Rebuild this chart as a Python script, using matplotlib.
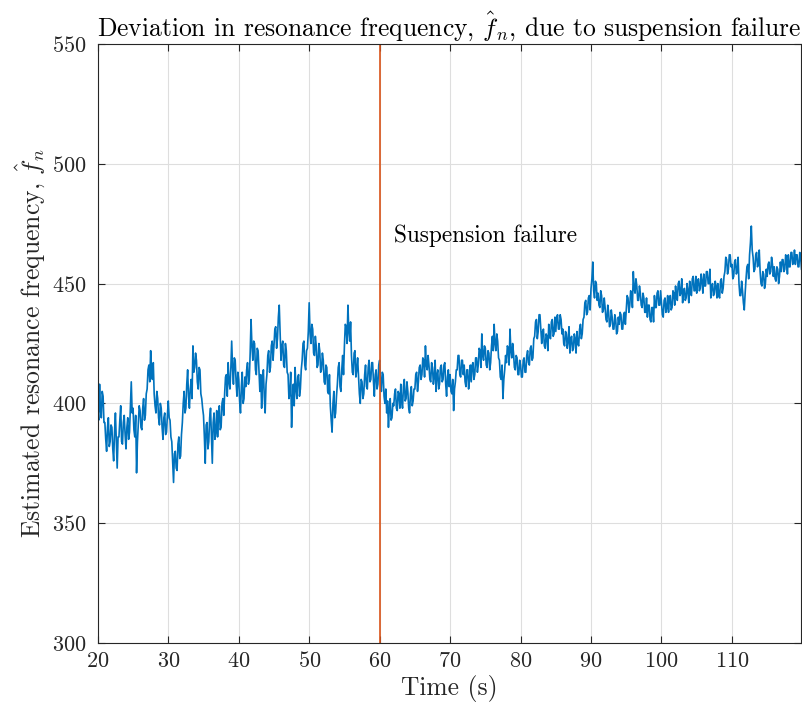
import matplotlib
matplotlib.use("Agg")
import matplotlib.pyplot as plt
import numpy as np

plt.rcParams['font.family'] = 'cmr10'
plt.rcParams['mathtext.fontset'] = 'cm'
plt.rcParams['axes.formatter.use_mathtext'] = True
plt.rcParams['axes.unicode_minus'] = False

# estimated resonance frequency, sampled every 0.125 s from t = 20 s
# (one row per second)
t0 = 20.0
dt = 0.125
f_hat = [
    398, 393, 408, 397, 394, 405, 403, 392,   # 20
    392, 385, 380, 390, 394, 382, 384, 391,
    390, 381, 376, 388, 396, 384, 373, 386,
    386, 393, 399, 384, 383, 392, 395, 387,
    381, 390, 394, 385, 388, 398, 409, 396,
    398, 389, 386, 395, 371, 384, 392, 399,   # 25
    397, 390, 389, 398, 402, 393, 395, 404,
    406, 414, 416, 409, 422, 412, 410, 417,
    404, 399, 396, 405, 402, 394, 391, 400,
    398, 390, 385, 394, 396, 387, 388, 395,
    401, 394, 393, 386, 384, 375, 367, 379,   # 30
    380, 373, 372, 383, 386, 377, 378, 387,
    392, 400, 405, 396, 398, 408, 414, 403,
    398, 406, 410, 402, 424, 413, 415, 421,
    418, 409, 406, 415, 414, 404, 402, 398,
    395, 386, 375, 391, 392, 381, 384, 394,   # 35
    398, 387, 375, 392, 396, 385, 388, 397,
    386, 394, 399, 389, 390, 400, 402, 395,
    404, 411, 412, 403, 417, 409, 406, 414,
    426, 415, 408, 419, 418, 409, 403, 413,
    410, 401, 396, 407, 413, 400, 402, 411,   # 40
    407, 414, 417, 408, 410, 421, 435, 424,
    418, 426, 425, 414, 412, 423, 422, 413,
    405, 412, 398, 409, 414, 403, 396, 408,
    412, 420, 422, 413, 415, 424, 426, 418,
    424, 431, 432, 423, 427, 436, 441, 429,   # 45
    418, 424, 426, 416, 415, 425, 422, 413,
    412, 402, 404, 413, 390, 401, 408, 399,
    415, 406, 402, 411, 412, 403, 406, 414,
    418, 425, 426, 416, 414, 422, 423, 430,
    442, 429, 425, 433, 431, 421, 420, 428,   # 50
    424, 415, 416, 425, 422, 413, 414, 421,
    418, 409, 408, 416, 415, 405, 404, 412,
    399, 393, 388, 400, 405, 394, 396, 403,
    408, 415, 417, 407, 405, 414, 420, 412,
    424, 433, 432, 425, 441, 430, 426, 434,   # 55
    420, 413, 412, 421, 422, 411, 414, 419,
    411, 404, 400, 410, 409, 402, 404, 412,
    416, 407, 406, 415, 418, 409, 410, 417,
    417, 409, 403, 412, 414, 406, 408, 416,
    418, 409, 405, 413, 412, 403, 400, 406,   # 60
    396, 401, 390, 398, 402, 393, 394, 400,
    399, 404, 406, 398, 397, 405, 404, 398,
    408, 401, 398, 407, 410, 401, 402, 409,
    405, 398, 396, 404, 407, 399, 401, 406,
    406, 412, 413, 405, 409, 415, 416, 410,   # 65
    412, 419, 418, 411, 424, 416, 414, 420,
    416, 410, 409, 417, 415, 408, 411, 418,
    405, 412, 414, 406, 408, 415, 416, 409,
    410, 416, 417, 408, 403, 411, 414, 407,
    412, 405, 404, 410, 397, 406, 409, 414,   # 70
    414, 420, 420, 412, 411, 418, 418, 412,
    416, 409, 407, 414, 414, 406, 410, 416,
    409, 416, 417, 410, 412, 419, 419, 413,
    416, 423, 422, 415, 429, 420, 418, 424,
    423, 416, 415, 422, 421, 414, 417, 424,   # 75
    428, 422, 433, 425, 422, 429, 426, 419,
    418, 411, 410, 416, 402, 410, 414, 420,
    417, 424, 423, 416, 431, 422, 419, 425,
    421, 415, 414, 420, 419, 412, 412, 418,
    416, 411, 411, 418, 419, 413, 413, 420,   # 80
    422, 417, 416, 423, 424, 418, 419, 427,
    428, 434, 435, 427, 430, 437, 437, 431,
    425, 430, 431, 424, 423, 429, 428, 422,
    433, 428, 427, 434, 435, 428, 429, 436,
    430, 436, 437, 431, 431, 437, 435, 429,   # 85
    431, 425, 424, 430, 429, 423, 426, 432,
    421, 427, 428, 422, 423, 429, 427, 421,
    430, 425, 424, 431, 433, 427, 429, 435,
    436, 442, 443, 437, 438, 444, 445, 439,
    448, 452, 459, 447, 444, 451, 450, 443,   # 90
    446, 441, 440, 447, 445, 438, 439, 444,
    440, 435, 434, 441, 438, 432, 433, 439,
    436, 431, 431, 437, 435, 429, 430, 436,
    433, 438, 437, 431, 431, 437, 438, 433,
    439, 445, 444, 438, 441, 447, 446, 440,   # 95
    455, 448, 446, 452, 449, 443, 443, 449,
    446, 441, 440, 446, 444, 438, 438, 444,
    436, 441, 441, 435, 434, 440, 440, 434,
    445, 440, 440, 446, 447, 441, 441, 447,
    442, 437, 436, 443, 444, 438, 440, 445,   # 100
    438, 444, 445, 439, 440, 447, 446, 441,
    449, 444, 443, 450, 451, 445, 446, 452,
    442, 447, 448, 443, 444, 450, 447, 442,
    451, 446, 445, 452, 453, 447, 447, 453,
    446, 451, 452, 447, 448, 454, 451, 446,   # 105
    454, 449, 449, 455, 455, 450, 450, 456,
    444, 449, 450, 445, 446, 451, 449, 444,
    450, 445, 444, 451, 452, 446, 448, 453,
    455, 461, 460, 454, 456, 462, 462, 457,
    458, 452, 453, 459, 460, 454, 455, 461,   # 110
    450, 445, 445, 451, 447, 442, 439, 446,
    452, 457, 458, 452, 462, 467, 474, 464,
    461, 455, 456, 462, 463, 457, 458, 464,
    455, 450, 449, 455, 454, 448, 450, 456,
    453, 458, 459, 454, 455, 461, 458, 453,   # 115
    457, 452, 451, 457, 456, 450, 453, 459,
    455, 460, 460, 455, 456, 462, 459, 454,
    462, 457, 457, 463, 463, 458, 459, 464,
    458, 462, 462, 457, 457, 463, 461, 456,
]
t = t0 + dt * np.arange(len(f_hat))

t_failure = 60
failure_label = "Suspension failure"

xticks = [20, 30, 40, 50, 60, 70, 80, 90, 100, 110]
yticks = [300, 350, 400, 450, 500, 550]

fig = plt.figure(figsize=(8.03, 7.13), dpi=100)
ax = fig.add_axes([0.1218, 0.0982, 0.8757, 0.8401])

ax.plot(t, f_hat, color='#0072BD', lw=1.2)
ax.axvline(t_failure, color='#D95319', lw=1.2)
ax.text(t_failure + 2, 470, failure_label, fontsize=16.8, va='center', color='k')

ax.set_xlim(20, 119.8)
ax.set_ylim(300, 550)
ax.set_xticks(xticks)
ax.set_yticks(yticks)
ax.grid(True, color='#dedede', lw=0.8)
ax.set_axisbelow(True)
for s in ax.spines.values():
    s.set_color('#262626')
    s.set_linewidth(0.8)
ax.tick_params(direction='in', top=True, right=True, length=5, width=0.8,
               colors='#262626', labelsize=16, labelcolor='#262626')
ax.tick_params(axis='y', pad=8)
ax.tick_params(axis='x', pad=6)

ax.set_xlabel("Time (s)", fontsize=18.3, color='#262626', labelpad=3)
ax.set_ylabel(r"Estimated resonance frequency, $\hat{f}_n$", fontsize=18.5, color='#262626')
ax.set_title(r"Deviation in resonance frequency, $\hat{f}_n$, due to suspension failure",
             fontsize=18.4, color='k', pad=6)

fig.savefig("out.png", dpi=100)
